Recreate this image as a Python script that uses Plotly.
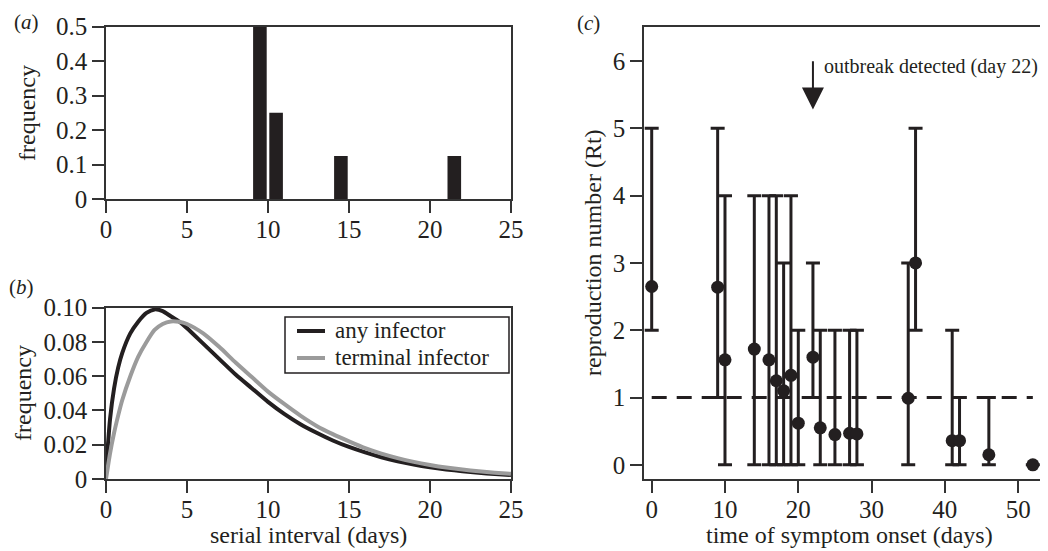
import plotly.graph_objects as go

OFF = 8                      # browser body margin offset
W, H = 1048 - OFF, 551 - OFF
INK = "#231f20"
GRAY = "#9b9b9b"
FONT = "Liberation Serif, Times New Roman, serif"

# ---- panel (a): observed serial intervals histogram
a_bins = [9.5, 10.5, 14.5, 21.5]
a_freq = [0.5, 0.25, 0.125, 0.125]

# ---- panel (b): serial interval distributions
b_x = [0, 0.25, 0.5, 0.75, 1, 1.5, 2, 2.5, 3, 3.5, 4, 4.5, 5, 6, 7, 8, 9, 10,
       11, 12, 13, 14, 15, 16, 17, 18, 19, 20, 21, 22, 23, 24, 25]
b_any = [0.004, 0.035, 0.053, 0.065, 0.0735, 0.085, 0.092, 0.097, 0.099, 0.098,
         0.095, 0.092, 0.088, 0.079, 0.070, 0.061, 0.053, 0.045, 0.038, 0.032,
         0.027, 0.0225, 0.0187, 0.0155, 0.0127, 0.0104, 0.0085, 0.0069, 0.0056,
         0.0045, 0.0036, 0.0029, 0.0023]
b_terminal = [0.0, 0.015, 0.027, 0.037, 0.046, 0.060, 0.0716, 0.080, 0.087, 0.0905,
              0.092, 0.0918, 0.0905, 0.085, 0.077, 0.068, 0.0595, 0.051, 0.0438,
              0.037, 0.031, 0.0262, 0.022, 0.018, 0.0148, 0.0122, 0.010, 0.0082,
              0.0067, 0.0055, 0.0045, 0.0037, 0.003]
legend_names = ["any infector", "terminal infector"]

# ---- panel (c): reproduction number over time
c_day = [0, 9, 10, 14, 16, 17, 18, 19, 20, 22, 23, 25, 27, 28, 35, 36, 41, 42, 46, 52]
c_rt = [2.65, 2.64, 1.56, 1.72, 1.56, 1.25, 1.1, 1.33, 0.62, 1.6, 0.55, 0.45,
        0.47, 0.46, 0.99, 3.0, 0.36, 0.36, 0.15, 0.0]
c_low = [2, 1, 0, 0, 0, 0, 0, 0, 0, 1, 0, 0, 0, 0, 0, 2, 0, 0, 0, 0]
c_high = [5, 5, 4, 4, 4, 4, 3, 4, 2, 3, 2, 2, 2, 2, 3, 5, 2, 1, 1, 0]
threshold = 1
detect_day = 22


def px(x):
    return (x - OFF) / W


def py(y):
    return 1 - (y - OFF) / H


fig = go.Figure()

fig.add_trace(go.Bar(x=a_bins, y=a_freq, width=0.84, marker=dict(color=INK, line=dict(width=0)),
                     xaxis="x", yaxis="y", showlegend=False))

fig.add_trace(go.Scatter(x=b_x, y=b_any, mode="lines", name=legend_names[0],
                         line=dict(color=INK, width=4, shape="spline", smoothing=0.6),
                         xaxis="x2", yaxis="y2", showlegend=False))
fig.add_trace(go.Scatter(x=b_x, y=b_terminal, mode="lines", name=legend_names[1],
                         line=dict(color=GRAY, width=4, shape="spline", smoothing=0.6),
                         xaxis="x2", yaxis="y2", showlegend=False))

fig.add_trace(go.Scatter(x=[min(c_day), max(c_day)], y=[threshold, threshold], mode="lines",
                         line=dict(color=INK, width=3, dash="15px,10px"),
                         xaxis="x3", yaxis="y3", showlegend=False, hoverinfo="skip"))

err_plus = [h - r for h, r in zip(c_high, c_rt)]
err_minus = [r - l for r, l in zip(c_rt, c_low)]
fig.add_trace(go.Scatter(x=c_day, y=c_rt, mode="markers",
                         marker=dict(color=INK, size=13),
                         error_y=dict(type="data", symmetric=False, array=err_plus,
                                      arrayminus=err_minus, color=INK, thickness=3, width=7),
                         xaxis="x3", yaxis="y3", showlegend=False))

axis_common = dict(showline=True, linecolor="#333333", linewidth=1.5, ticks="outside",
                   ticklen=12, tickwidth=1.5, tickcolor="#333333", showgrid=False,
                   zeroline=False, tickfont=dict(family=FONT, size=25, color=INK))
xstand = dict(ticklabelstandoff=-5)

a_dom_x = [px(106), px(511)]
fig.update_layout(
    xaxis=dict(domain=a_dom_x, range=[0, 25], tickvals=[0, 5, 10, 15, 20, 25],
               mirror=True, anchor="y", **axis_common, **xstand),
    yaxis=dict(domain=[py(199), py(26.7)], range=[0, 0.5],
               tickvals=[0, 0.1, 0.2, 0.3, 0.4, 0.5],
               ticktext=["0", "0.1", "0.2", "0.3", "0.4", "0.5"],
               mirror=True, anchor="x", **axis_common),
    xaxis2=dict(domain=a_dom_x, range=[0, 25], tickvals=[0, 5, 10, 15, 20, 25],
                mirror=True, anchor="y2", **axis_common, **xstand),
    yaxis2=dict(domain=[py(479), py(307.7)], range=[0, 0.1],
                tickvals=[0, 0.02, 0.04, 0.06, 0.08, 0.10],
                ticktext=["0", "0.02", "0.04", "0.06", "0.08", "0.10"],
                mirror=True, anchor="x2", **axis_common),
    xaxis3=dict(domain=[px(644), 1.0], range=[-1.05, 54.07], tickvals=[0, 10, 20, 30, 40, 50],
                mirror=True, anchor="y3", **axis_common, **xstand),
    yaxis3=dict(domain=[py(479), py(26.7)], range=[-0.21, 6.51],
                tickvals=[0, 1, 2, 3, 4, 5, 6], anchor="x3", **axis_common),
    width=W, height=H,
    margin=dict(l=0, r=0, t=0, b=0, autoexpand=False),
    paper_bgcolor="white", plot_bgcolor="white",
    font=dict(family=FONT, size=24, color=INK),
    showlegend=False,
)

anns = []
shapes = []


def txt(text, x, y, size=24, angle=0, xanchor="center"):
    anns.append(dict(text=text, x=px(x), y=py(y), xref="paper", yref="paper",
                     showarrow=False, textangle=angle, xanchor=xanchor, yanchor="middle",
                     font=dict(family=FONT, size=size, color=INK)))


txt("(<i>a</i>)", 26.5, 22, size=21)
txt("(<i>b</i>)", 21, 287, size=21)
txt("(<i>c</i>)", 588, 23, size=21)
txt("frequency", 27, 113, angle=-90)
txt("frequency", 23, 393, angle=-90)
txt("serial interval (days)", 308, 535)
txt("reproduction number (Rt)", 593, 253, angle=-90)
txt("time of symptom onset (days)", 849, 535)

# legend for panel (b), drawn as a boxed key
shapes.append(dict(type="rect", xref="paper", yref="paper", x0=px(285), x1=px(509),
                   y0=py(373), y1=py(317), line=dict(color=INK, width=1.5),
                   fillcolor="white", layer="above"))
for name, col, yy in zip(legend_names, [INK, GRAY], [331, 358]):
    shapes.append(dict(type="line", xref="paper", yref="paper", x0=px(297), x1=px(325),
                       y0=py(yy), y1=py(yy), line=dict(color=col, width=4), layer="above"))
    txt(name, 333, yy - 1, size=23, xanchor="left")

anns.append(dict(x=detect_day, y=5.28, ax=detect_day, ay=6.02, xref="x3", yref="y3",
                 axref="x3", ayref="y3", showarrow=True, arrowhead=2, arrowsize=2.2,
                 arrowwidth=2, arrowcolor=INK, text=""))
anns.append(dict(x=detect_day + 1.2, y=5.92, xref="x3", yref="y3", showarrow=False,
                 text="outbreak detected (day %d)" % detect_day, xanchor="left",
                 yanchor="middle", font=dict(family=FONT, size=20, color=INK)))

fig.update_layout(annotations=anns, shapes=shapes)

fig.write_html("out.html")
